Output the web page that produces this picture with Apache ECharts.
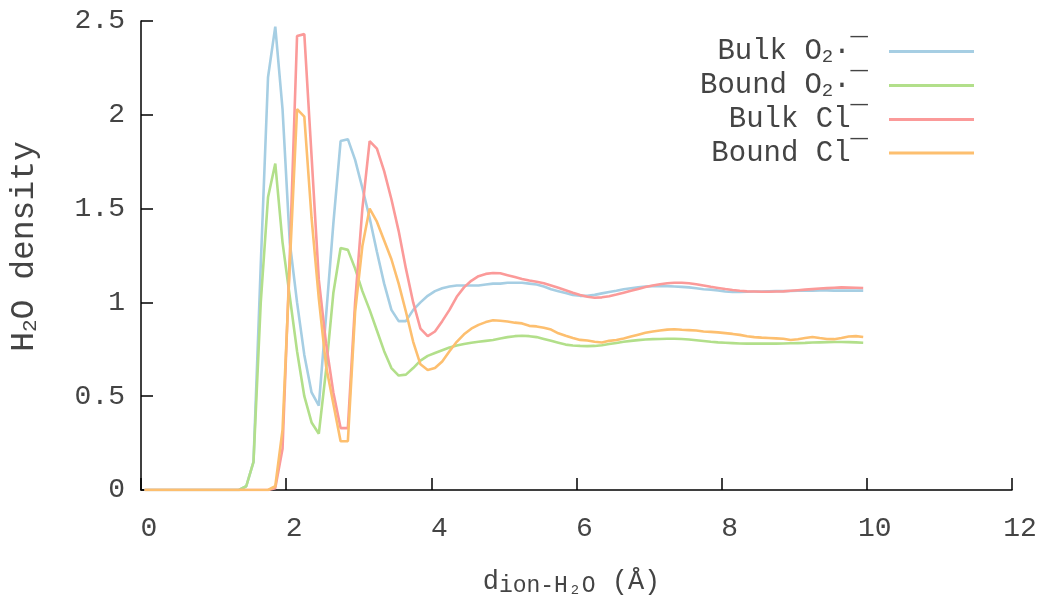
<!DOCTYPE html>
<html>
<head>
<meta charset="utf-8">
<script src="https://cdn.jsdelivr.net/npm/echarts@6/dist/echarts.min.js"></script>
<style>html,body{margin:0;padding:0;background:#fff;}#c{width:1037px;height:595px;}</style>
</head>
<body>
<div id="c"></div>
<script>
// distance grid (bin centres, Å): 0.05, 0.15, ... 9.95
const distances = [];
for (let k = 0; k < 100; k++) distances.push(+(0.05 + 0.1 * k).toFixed(2));

const seriesNames = ['Bulk O2·-', 'Bound O2·-', 'Bulk Cl-', 'Bound Cl-'];

const bulkO2 = [
  0,0,0,0,0,0,0,0,0,0,0,0,0,0,
  0.02,0.15,1.2,2.2,2.47,2.03,1.32,1.0,0.72,0.52,
  0.45,0.93,1.42,1.86,1.87,1.76,1.61,1.45,1.27,1.1,
  0.96,0.90,0.90,0.96,1.0,1.035,1.06,1.075,1.085,1.09,
  1.09,1.09,1.09,1.095,1.10,1.10,1.105,1.105,1.105,1.10,
  1.095,1.085,1.07,1.06,1.05,1.04,1.035,1.035,1.04,1.048,
  1.055,1.062,1.07,1.075,1.08,1.085,1.087,1.088,1.087,1.085,
  1.083,1.08,1.075,1.07,1.068,1.063,1.058,1.056,1.056,1.057,
  1.058,1.058,1.059,1.06,1.06,1.061,1.062,1.063,1.063,1.064,
  1.064,1.063,1.063,1.063,1.063,1.063
];

const boundO2 = [
  0,0,0,0,0,0,0,0,0,0,0,0,0,0,
  0.02,0.15,1.0,1.56,1.74,1.32,1.03,0.74,0.50,0.36,
  0.30,0.64,1.05,1.29,1.28,1.18,1.06,0.96,0.85,0.74,
  0.65,0.61,0.615,0.65,0.69,0.715,0.73,0.745,0.76,0.77,
  0.778,0.785,0.79,0.795,0.80,0.808,0.815,0.82,0.822,0.82,
  0.815,0.805,0.795,0.785,0.775,0.77,0.768,0.767,0.768,0.772,
  0.778,0.784,0.79,0.795,0.799,0.802,0.804,0.805,0.806,0.806,
  0.805,0.802,0.798,0.794,0.79,0.787,0.785,0.783,0.781,0.78,
  0.78,0.78,0.78,0.78,0.781,0.782,0.783,0.784,0.786,0.787,
  0.788,0.789,0.789,0.788,0.787,0.785
];

const bulkCl = [
  0,0,0,0,0,0,0,0,0,0,0,0,0,0,0,0,0,0,
  0.01,0.22,1.25,2.42,2.43,1.78,
  1.12,0.78,0.52,0.33,0.33,1.0,1.5,1.86,1.82,1.70,
  1.55,1.38,1.18,1.0,0.86,0.82,0.845,0.90,0.96,1.03,
  1.08,1.115,1.14,1.152,1.157,1.155,1.145,1.135,1.125,1.117,
  1.11,1.102,1.09,1.078,1.065,1.052,1.04,1.03,1.025,1.027,
  1.033,1.042,1.052,1.062,1.072,1.082,1.09,1.097,1.102,1.105,
  1.105,1.102,1.097,1.09,1.083,1.077,1.071,1.066,1.062,1.059,
  1.058,1.057,1.057,1.058,1.059,1.062,1.065,1.068,1.071,1.074,
  1.076,1.078,1.08,1.079,1.078,1.077
];

const boundCl = [
  0,0,0,0,0,0,0,0,0,0,0,0,0,0,0,0,0,0,
  0.02,0.32,1.2,2.03,1.99,1.45,
  1.02,0.66,0.46,0.26,0.26,0.95,1.3,1.5,1.43,1.33,
  1.23,1.1,0.95,0.79,0.67,0.64,0.65,0.685,0.74,0.79,
  0.83,0.86,0.88,0.895,0.905,0.902,0.898,0.892,0.888,0.875,
  0.872,0.865,0.855,0.835,0.822,0.81,0.80,0.797,0.79,0.786,
  0.795,0.80,0.808,0.818,0.828,0.838,0.845,0.85,0.855,0.857,
  0.854,0.852,0.85,0.845,0.843,0.84,0.836,0.832,0.827,0.82,
  0.815,0.812,0.81,0.808,0.806,0.80,0.804,0.81,0.816,0.81,
  0.805,0.804,0.81,0.818,0.82,0.816
];

const colors = ['#a6cee3', '#b2df8a', '#fb9a99', '#fdbf6f'];
const xTicks = { min: 0, max: 12, interval: 2 };
const yTicks = { min: 0, max: 2.5, interval: 0.5 };

const FONT = '"Liberation Mono", "DejaVu Sans Mono", monospace';
const TXT = '#444';

function pairs(ys) { return ys.map((y, i) => [distances[i], y]); }

const legendRich = {
  n: { fontFamily: FONT, fontSize: 29, color: TXT, lineHeight: 30, verticalAlign: 'middle' },
  sub: { fontFamily: FONT, fontSize: 19, color: TXT, lineHeight: 12, verticalAlign: 'bottom' }
};
const yNameRich = {
  n: { fontFamily: FONT, fontSize: 33, color: TXT, lineHeight: 34, verticalAlign: 'middle' },
  sub: { fontFamily: FONT, fontSize: 21, color: TXT, lineHeight: 18, verticalAlign: 'bottom' }
};
const xNameRich = {
  n: { fontFamily: FONT, fontSize: 27, color: TXT, lineHeight: 30, verticalAlign: 'middle' },
  sub: { fontFamily: FONT, fontSize: 23, color: TXT, lineHeight: 20, verticalAlign: 'bottom' }
};

const legendLabels = {
  'Bulk O2·-': '{n|Bulk O}{sub|2}{n|·¯}',
  'Bound O2·-': '{n|Bound O}{sub|2}{n|·¯}',
  'Bulk Cl-': '{n|Bulk Cl¯}',
  'Bound Cl-': '{n|Bound Cl¯}'
};

const data = [bulkO2, boundO2, bulkCl, boundCl];

const chart = echarts.init(document.getElementById('c'), null, { renderer: 'canvas' });
chart.setOption({
  animation: false,
  backgroundColor: '#fff',
  grid: { left: 141, right: 25, top: 21, bottom: 105, containLabel: false, outerBoundsMode: 'none' },
  legend: {
    orient: 'vertical',
    right: 58,
    top: 32,
    icon: 'rect',
    itemWidth: 85,
    itemHeight: 3,
    itemGap: 4.5,
    align: 'right',
    data: seriesNames,
    formatter: name => legendLabels[name],
    textStyle: { fontFamily: FONT, fontSize: 29, color: TXT, width: 200, align: 'right', padding: [0, 16, 0, 0], rich: legendRich }
  },
  xAxis: {
    type: 'value',
    min: xTicks.min, max: xTicks.max, interval: xTicks.interval,
    name: '{n|d}{sub|ion-H₂O}{n| (Å)}',
    nameLocation: 'middle',
    nameGap: 77,
    nameTextStyle: { rich: xNameRich, padding: [0, 10, 0, 0] },
    axisLine: { lineStyle: { color: '#000', width: 1.5 } },
    axisTick: { inside: true, length: 12, lineStyle: { color: '#000', width: 1.5 } },
    axisLabel: { fontFamily: FONT, fontSize: 28, color: TXT, margin: 25, padding: [0, 0, 0, 16] },
    splitLine: { show: false }
  },
  yAxis: {
    type: 'value',
    min: yTicks.min, max: yTicks.max, interval: yTicks.interval,
    name: '{n|H}{sub|2}{n|O density}',
    nameLocation: 'middle',
    nameGap: 100,
    nameRotate: 90,
    nameTextStyle: { rich: yNameRich, padding: [0, 0, 0, 18] },
    axisLine: { show: true, lineStyle: { color: '#000', width: 1.5 } },
    axisTick: { show: true, inside: true, length: 12, lineStyle: { color: '#000', width: 1.5 } },
    axisLabel: { fontFamily: FONT, fontSize: 28, color: TXT, margin: 16 },
    splitLine: { show: false }
  },
  series: data.map((d, i) => ({
    name: seriesNames[i],
    type: 'line',
    data: pairs(d),
    showSymbol: false,
    symbol: 'none',
    color: colors[i],
    lineStyle: { color: colors[i], width: 2.6 },
    itemStyle: { color: colors[i] }
  }))
});
</script>
</body>
</html>
